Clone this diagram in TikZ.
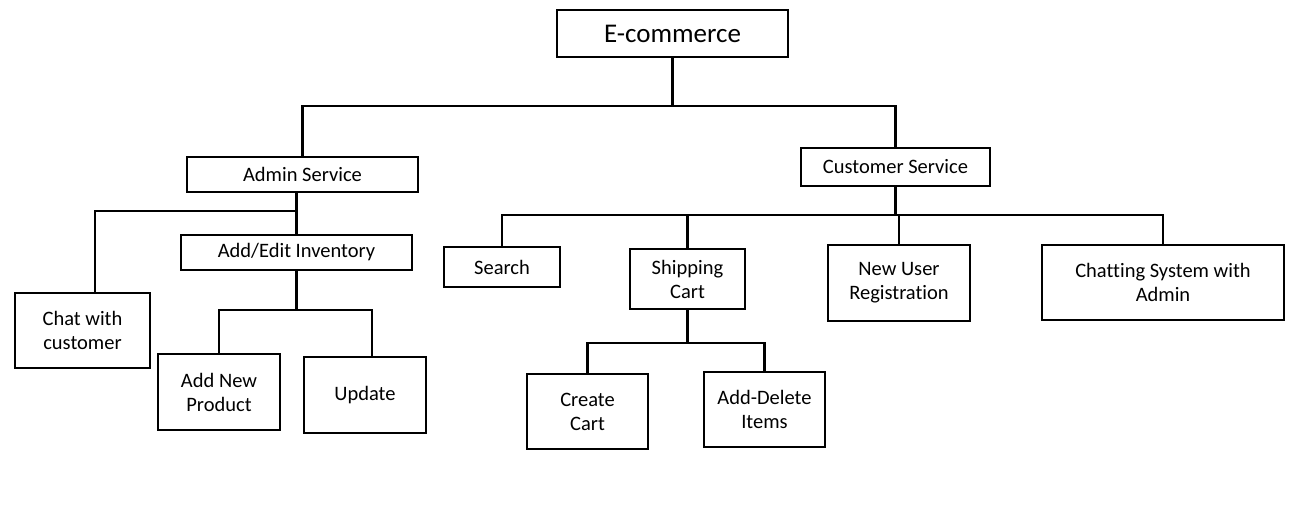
\documentclass[tikz,border=0pt]{standalone}
\usepackage{fontspec}
\setmainfont{Carlito}[Ligatures={NoCommon}]
\begin{document}
\begin{tikzpicture}[x=1pt,y=-1pt,
  box/.style={draw=black,line width=2.8pt,inner sep=0pt,align=center,
    font=\fontsize{20.5}{24}\selectfont},
  conn/.style={draw=black,line width=2.8pt,line cap=rect}]
\useasboundingbox[fill=white] (0,0) rectangle (1306,510);
% nodes
\node[box,minimum width=231pt,minimum height=47pt,font=\fontsize{27}{30}\selectfont] (ecom) at (672.5,33.5) {E-commerce};
\node[box,minimum width=231pt,minimum height=35pt] (admin) at (302.5,174.5) {Admin Service};
\node[box,minimum width=189pt,minimum height=38pt] (cust) at (895.5,167) {Customer Service};
\node[box,minimum width=231pt,minimum height=35pt] (addedit) at (296.5,252.5) {Add/Edit Inventory};
\node[box,minimum width=135pt,minimum height=75pt] (chat) at (82.5,330.5) {Chat with\\customer};
\node[box,minimum width=122pt,minimum height=76pt] (addnew) at (219,392) {Add New\\Product};
\node[box,minimum width=122pt,minimum height=76pt] (update) at (365,395) {Update};
\node[box,minimum width=116pt,minimum height=40pt] (search) at (502,267) {Search};
\node[box,minimum width=115pt,minimum height=60pt] (ship) at (687.5,279) {Shipping\\Cart};
\node[box,minimum width=142pt,minimum height=76pt] (newuser) at (899,283) {New User\\Registration};
\node[box,minimum width=242pt,minimum height=75pt] (chatting) at (1163,282.5) {Chatting System with\\Admin};
\node[box,minimum width=121pt,minimum height=75pt] (create) at (587.5,411.5) {Create\\Cart};
\node[box,minimum width=121pt,minimum height=75pt] (adddel) at (764.5,409.5) {Add-Delete\\Items};
% junction levels
\coordinate (b1) at (0,106);
\coordinate (b2) at (0,211);
\coordinate (b3) at (0,310);
\coordinate (b4) at (0,215);
\coordinate (b5) at (0,343);
% connectors
\draw[conn] (ecom.south) -- (ecom.south |- b1);
\draw[conn] (admin.north) -- (admin.north |- b1) -- (cust.north |- b1) -- (cust.north);
\draw[conn] (addedit.north |- admin.south) -- (addedit.north);
\draw[conn] ([xshift=12.5pt]chat.north) -- ([xshift=12.5pt]chat.north |- b2) -- (addedit.north |- b2);
\draw[conn] (addedit.south) -- (addedit.south |- b3);
\draw[conn] (addnew.north) -- (addnew.north |- b3) -- ([xshift=7pt]update.north |- b3) -- ([xshift=7pt]update.north);
\draw[conn] (cust.south) -- (cust.south |- b4);
\draw[conn] (search.north) -- (search.north |- b4) -- (chatting.north |- b4) -- (chatting.north);
\draw[conn] (ship.north) -- (ship.north |- b4);
\draw[conn] (newuser.north) -- (newuser.north |- b4);
\draw[conn] (ship.south) -- (ship.south |- b5);
\draw[conn] (create.north) -- (create.north |- b5) -- (adddel.north |- b5) -- (adddel.north);
\end{tikzpicture}
\end{document}
